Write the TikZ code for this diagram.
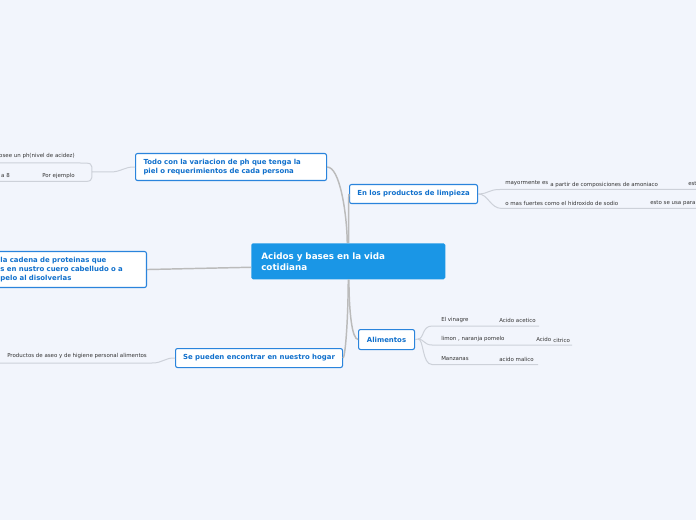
\documentclass[tikz,border=0pt]{standalone}
\usepackage{fontspec}
\setmainfont{DejaVu Sans}
\definecolor{bg}{HTML}{F2F5FC}
\definecolor{mainblue}{HTML}{1A96E6}
\definecolor{bord}{HTML}{2A84DC}
\definecolor{txtblue}{HTML}{1070CC}
\definecolor{conn}{HTML}{BBBBBB}
\definecolor{uline}{HTML}{CDD1D9}
\definecolor{leaftxt}{HTML}{333333}
\begin{document}
\begin{tikzpicture}[x=0.75pt,y=-0.75pt,
 central/.style={fill=mainblue, rounded corners=1.2pt, text=white,
   font=\fontsize{6.6}{8.25}\selectfont\bfseries, align=left, anchor=north west,
   inner xsep=7.5pt, inner ysep=0pt, text width=130.5pt, minimum height=27pt},
 sub/.style={draw=bord, line width=0.8pt, fill=white, rounded corners=1.5pt,
   text=txtblue, font=\fontsize{5.2}{6.75}\selectfont\bfseries, inner ysep=0pt},
 leaf/.style={text=leaftxt, font=\fontsize{4.1}{4.7}\selectfont, inner sep=0pt, anchor=west},
 mainconn/.style={draw=conn, line width=1.1pt},
 subconn/.style={draw=uline, line width=0.75pt},
]
\useasboundingbox (0,0) rectangle (696,520);
\clip (0,0) rectangle (696,520);
\fill[bg] (0,0) rectangle (696,520);

% nodes
\node[central] (central) at (251,243) {Acidos y bases en la vida\\cotidiana};
\node[sub, anchor=north west, align=left, text width=131.25pt, inner xsep=6pt,
  minimum height=20.25pt] (todo) at (135,153)
  {Todo con la variacion de ph que tenga la\\piel o requerimientos de cada persona};
\node[sub, anchor=north west, align=center, minimum width=96pt, minimum height=14.25pt,
  inner xsep=0pt] (limp) at (349,184) {En los productos de limpieza};
\node[sub, anchor=north east, align=left, text width=99pt, inner xsep=10.5pt,
  minimum height=27pt] (left) at (147,251)
  {la cadena de proteinas que\\s en nustro cuero cabelludo o a\\pelo al disolverlas};
\node[sub, anchor=north west, align=center, minimum width=125.25pt, minimum height=14.25pt,
  inner xsep=0pt] (hogar) at (175,348) {Se pueden encontrar en nuestro hogar};
\node[sub, anchor=north west, align=center, minimum width=42pt, minimum height=15pt,
  inner xsep=0pt] (alim) at (358,329) {Alimentos};

% main connectors
\draw[mainconn] (todo.east) .. controls (340,166.5) and (347,215) .. ([xshift=-0.75pt]central.north);
\draw[mainconn] ([xshift=0.3pt]central.north) .. controls (348.5,215) and (348.5,193.5) .. (limp.west);
\draw[mainconn] ([yshift=-4.5pt]central.west) -- (left.east);
\draw[mainconn] (central.south) .. controls (348,325) and (345,357.5) .. (hogar.east);
\draw[mainconn] ([xshift=0.5pt]central.south) .. controls (349,312) and (352,339) .. (alim.west);

% leaves: left side of "todo"
\node[leaf, anchor=east] (ph) at (75,156) {posee un ph(nivel de acidez)};
\node[leaf, anchor=east] (a8) at (10,176) {a 8};
\node[leaf] (ejemplo) at (42,176) {Por ejemplo};
\coordinate (j1) at (92,172);
\coordinate (e1) at (0,163);
\coordinate (e2) at (0,181.5);
\draw[subconn] (todo.west) .. controls (124,166.5) and (122,172) .. (110,172) -- (j1);
\draw[subconn] (j1) .. controls (92,163) .. (80,163) -- (e1);
\draw[subconn] (j1) .. controls (92,181.5) .. (80,181.5) -- (e2);

% leaves: right side of "limp"
\node[leaf] (mayor) at (505,183) {mayormente es};
\node[leaf] (amon) at (550,184.5) {a partir de composiciones de amoniaco};
\node[leaf] (est) at (688,184) {est};
\node[leaf] (fuert) at (505,203) {o mas fuertes como el hidroxido de sodio};
\node[leaf] (usa) at (650,203) {esto se usa para};
\coordinate (e3) at (696,189.5);
\coordinate (e4) at (696,208.5);
\draw[subconn] (limp.east) .. controls (490,193.5) and (488,189.5) .. (500,189.5) -- (e3);
\draw[subconn] (limp.east) .. controls (488,193.5) and (490,208.5) .. (502,208.5) -- (e4);

% leaves: Alimentos
\node[leaf] (vin) at (441,320) {El vinagre};
\node[leaf] (acet) at (499,320) {Acido acetico};
\node[leaf] (limon) at (441,339) {limon , naranja pomelo};
\node[leaf] (acido) at (536,339) {Acido};
\node[leaf] (citr) at (553,340.5) {citrico};
\node[leaf] (manz) at (441,359) {Manzanas};
\node[leaf] (mal) at (499,359) {acido malico};
\coordinate (j2) at (418,339);
\coordinate (e5) at (539,326);
\coordinate (e6) at (572,345);
\coordinate (e7) at (538,364.5);
\draw[subconn] (alim.east) -- (j2);
\draw[subconn] (j2) .. controls (424,339) and (422,326) .. (432,326) -- (e5);
\draw[subconn] (j2) .. controls (424,339) and (424,345) .. (432,345) -- (e6);
\draw[subconn] (j2) .. controls (424,339) and (422,364.5) .. (432,364.5) -- (e7);

% leaves: hogar
\node[leaf] (aseo) at (7,356) {Productos de aseo y de higiene personal alimentos};
\coordinate (e8) at (0,363);
\draw[subconn] (hogar.west) .. controls (165,357.5) and (163,363) .. (152,363) -- (e8);
\end{tikzpicture}
\end{document}
